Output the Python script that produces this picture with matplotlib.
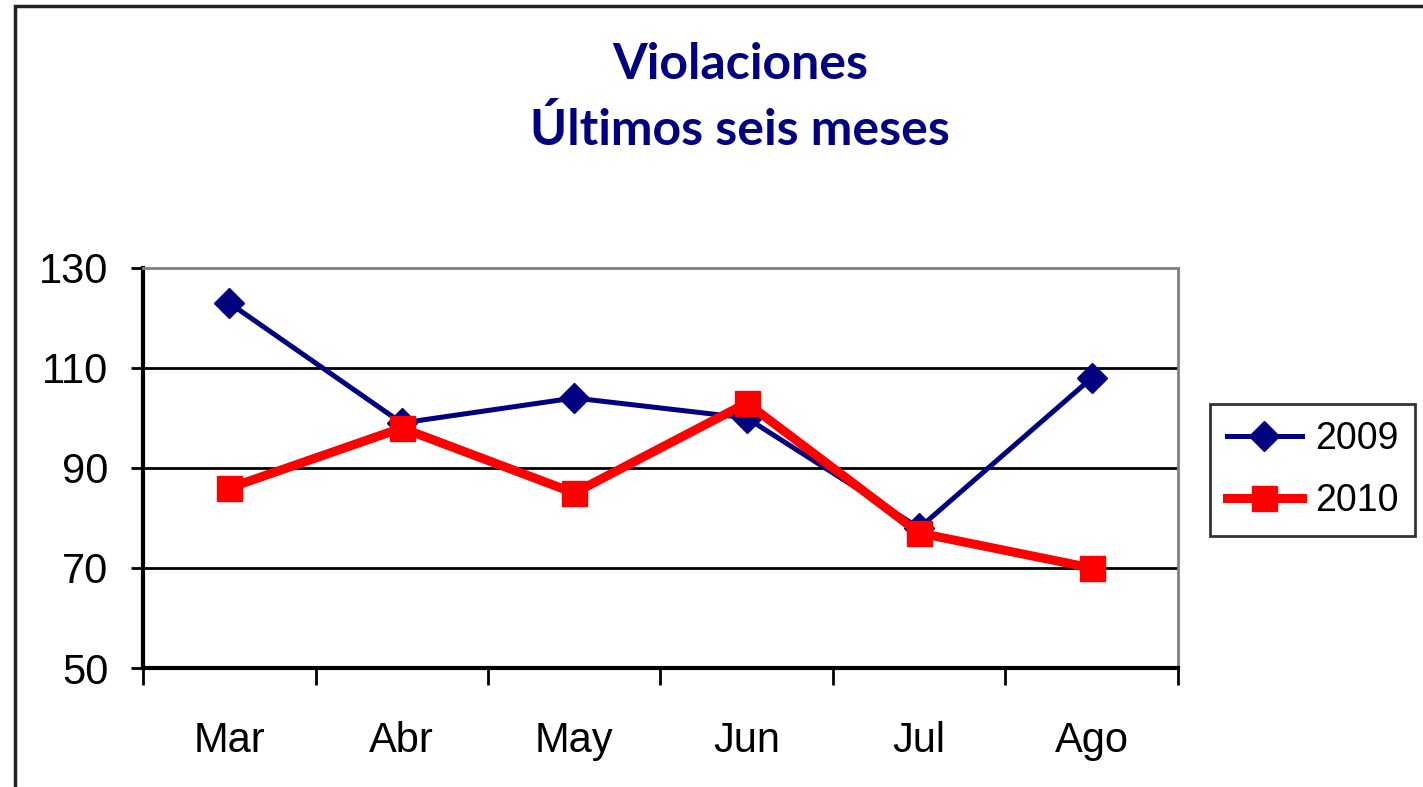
import matplotlib.pyplot as plt
from matplotlib.patches import Rectangle

# Data
months = ['Mar', 'Abr', 'May', 'Jun', 'Jul', 'Ago']
v2009 = [123, 99, 104, 100, 78, 108]
v2010 = [86, 98, 85, 103, 77, 70]

plt.rcParams['font.family'] = ['Liberation Sans', 'DejaVu Sans']

fig = plt.figure(figsize=(14.23, 7.87), dpi=100)
ax = fig.add_axes([0.1005, 0.1512, 0.7273, 0.5083])

x = list(range(len(months)))
ax.plot(x, v2009, color='#000080', linewidth=3.6, marker='D', markersize=15,
        label='2009', zorder=3)
ax.plot(x, v2010, color='#ff0000', linewidth=6.5, marker='s', markersize=18,
        label='2010', zorder=4)

ax.set_xlim(-0.5, len(months) - 0.5)
ax.set_ylim(50, 130)
ax.set_yticks([50, 70, 90, 110, 130])
ax.tick_params(axis='y', labelsize=30, length=9, width=2, pad=16)

# ticks at category boundaries, labels at centers
ax.set_xticks([i - 0.5 for i in range(len(months) + 1)])
ax.set_xticklabels([])
ax.tick_params(axis='x', which='major', length=12, width=2)
ax.set_xticks(x, minor=True)
ax.set_xticklabels(months, minor=True)
ax.tick_params(axis='x', which='minor', length=0, labelsize=30, pad=38)

for yv in [70, 90, 110]:
    ax.axhline(yv, color='black', linewidth=2, zorder=1)

ax.spines['left'].set_linewidth(3)
ax.spines['bottom'].set_linewidth(3)
ax.spines['top'].set_color('#808080')
ax.spines['right'].set_color('#808080')
ax.spines['top'].set_linewidth(2)
ax.spines['right'].set_linewidth(2)

leg = ax.legend(loc='center left', bbox_to_anchor=(1.031, 0.495), fontsize=27,
                frameon=True, fancybox=False, edgecolor='black',
                handlelength=2.0, borderpad=0.45, labelspacing=0.7,
                handletextpad=0.35, borderaxespad=0)
leg.get_frame().set_linewidth(2)

fig.text(0.52, 0.918, 'Violaciones', ha='center', va='center', fontsize=36,
         fontweight='bold', color='#000080', family=['Lato', 'DejaVu Sans'])
fig.text(0.52, 0.835, 'Últimos seis meses', ha='center', va='center',
         fontsize=36, fontweight='bold', color='#000080',
         family=['Lato', 'DejaVu Sans'])

# outer chart frame (right and bottom cut off)
fig.patches.append(Rectangle((15 / 1423, -0.05), 1.2, 1.05 - 6 / 787,
                             transform=fig.transFigure, fill=False,
                             edgecolor='#222222', linewidth=2.5))

fig.savefig('out.png', dpi=100)
